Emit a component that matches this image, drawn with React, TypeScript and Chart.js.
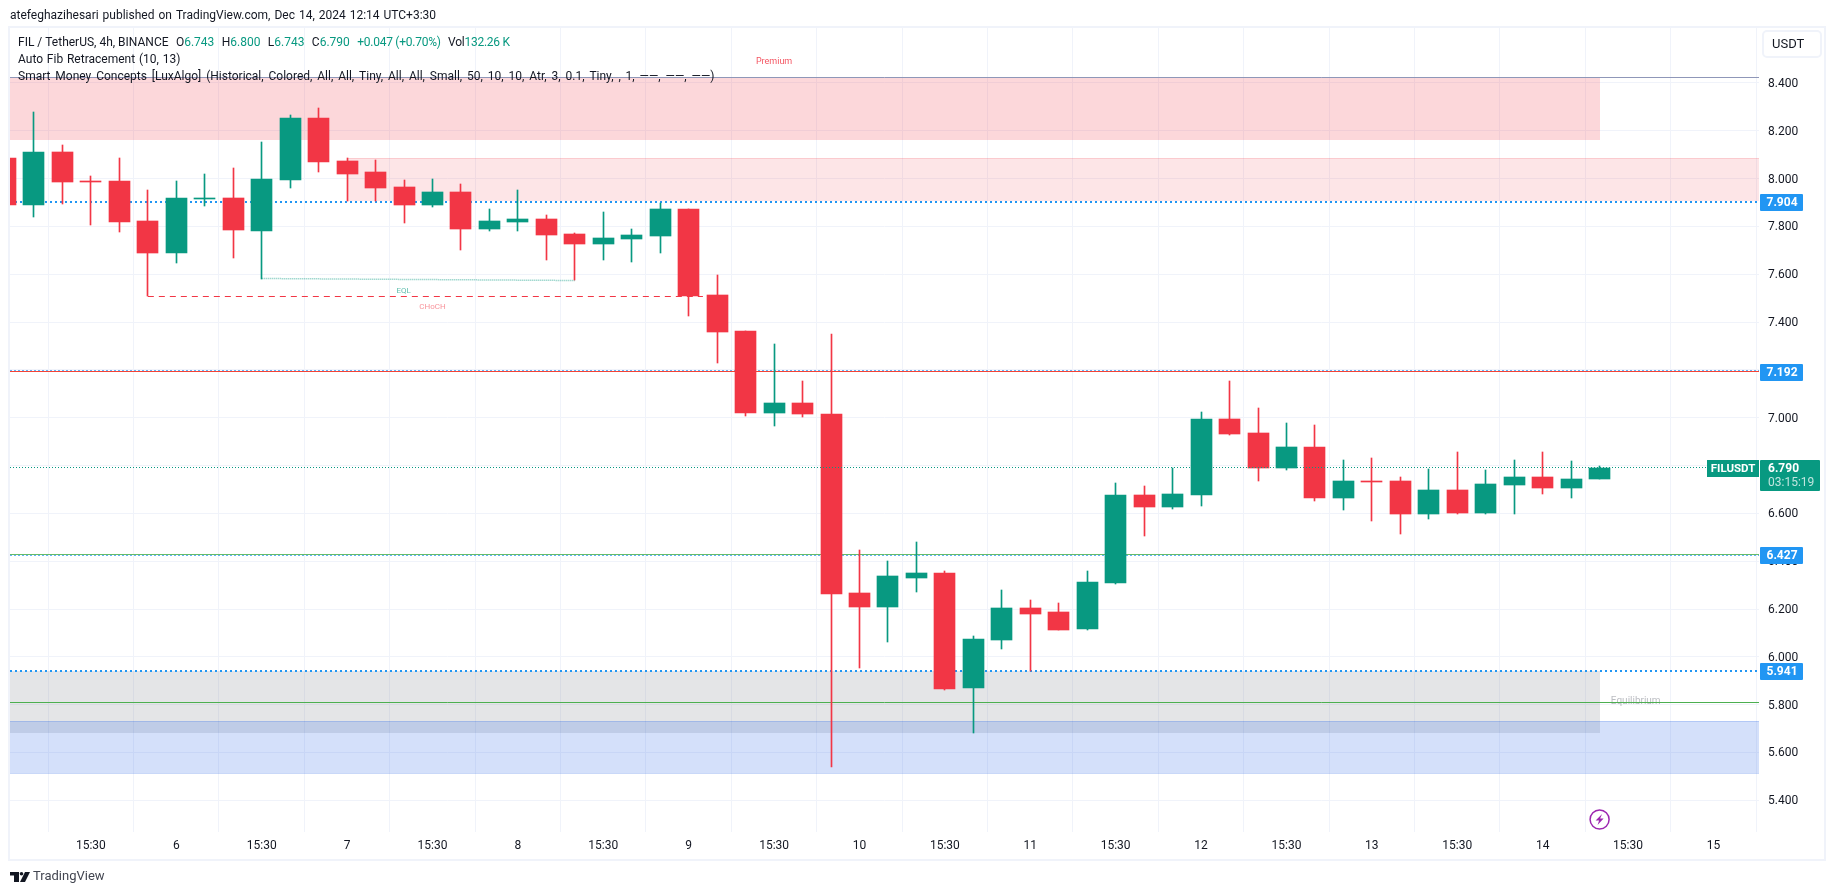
import React, { useEffect, useRef } from "react";
import { Chart, registerables } from "chart.js";

Chart.register(...registerables);

const FONT = "Roboto, 'Liberation Sans', sans-serif";
const UP = "#089981";
const DOWN = "#f23645";

// One row per 4h bar, the first bar being the one clipped at the left edge.
const opens = [8.086, 7.89, 8.111, 7.989, 7.99, 7.823, 7.689, 7.915, 7.919, 7.781, 7.994, 8.254, 8.074, 8.028, 7.965, 7.89, 7.944, 7.789, 7.819, 7.831, 7.768, 7.727, 7.748, 7.76, 7.873, 7.513, 7.363, 7.02, 7.062, 7.016, 6.267, 6.208, 6.33, 6.351, 5.87, 6.07, 6.204, 6.188, 6.116, 6.309, 6.677, 6.627, 6.677, 6.995, 6.936, 6.79, 6.878, 6.664, 6.735, 6.735, 6.597, 6.698, 6.602, 6.719, 6.752, 6.706, 6.743];
const highs = [8.086, 8.279, 8.141, 8.011, 8.086, 7.952, 7.99, 8.019, 8.044, 8.153, 8.266, 8.295, 8.086, 8.078, 7.994, 7.998, 7.978, 7.873, 7.952, 7.848, 7.773, 7.86, 7.789, 7.898, 7.873, 7.597, 7.363, 7.308, 7.154, 7.35, 6.447, 6.401, 6.48, 6.359, 6.087, 6.28, 6.238, 6.225, 6.359, 6.727, 6.715, 6.788, 7.024, 7.154, 7.041, 6.978, 6.97, 6.823, 6.832, 6.752, 6.786, 6.857, 6.781, 6.823, 6.857, 6.819, 6.8];
const lows = [7.89, 7.84, 7.894, 7.806, 7.777, 7.508, 7.647, 7.886, 7.668, 7.582, 7.961, 8.028, 7.906, 7.906, 7.814, 7.881, 7.702, 7.781, 7.781, 7.66, 7.575, 7.66, 7.651, 7.689, 7.426, 7.229, 7.007, 6.965, 7.003, 5.539, 5.953, 6.062, 6.271, 5.861, 5.682, 6.033, 5.941, 6.112, 6.112, 6.305, 6.505, 6.618, 6.631, 6.928, 6.735, 6.781, 6.652, 6.614, 6.568, 6.514, 6.576, 6.597, 6.597, 6.597, 6.681, 6.664, 6.743];
const closes = [7.89, 8.111, 7.986, 7.986, 7.819, 7.689, 7.919, 7.919, 7.785, 7.998, 8.254, 8.07, 8.019, 7.961, 7.89, 7.944, 7.789, 7.823, 7.831, 7.764, 7.727, 7.752, 7.764, 7.873, 7.509, 7.359, 7.02, 7.062, 7.016, 6.263, 6.208, 6.338, 6.351, 5.866, 6.075, 6.204, 6.179, 6.112, 6.313, 6.677, 6.627, 6.681, 6.995, 6.932, 6.79, 6.878, 6.664, 6.735, 6.731, 6.597, 6.698, 6.602, 6.723, 6.752, 6.706, 6.744, 6.79];

const priceTicks = [5.4, 5.6, 5.8, 6.0, 6.2, 6.4, 6.6, 6.8, 7.0, 7.2, 7.4, 7.6, 7.8, 8.0, 8.2, 8.4];
const timeTickBars = [3, 6, 9, 12, 15, 18, 21, 24, 27, 30, 33, 36, 39, 42, 45, 48, 51, 54, 57, 60];
const timeTickLabels = ["15:30", "6", "15:30", "7", "15:30", "8", "15:30", "9", "15:30", "10", "15:30", "11", "15:30", "12", "15:30", "13", "15:30", "14", "15:30", "15"];

const X_MIN = 0.158;
const X_MAX = 61.6;
const Y_MIN = 5.2674;
const Y_MAX = 8.63;

// [first bar, last bar, top price, bottom price]
const premiumZone = [X_MIN, 56, 8.425, 8.162];
const supplyZone = [12, X_MAX, 8.086, 7.908];
const equilibriumZone = [X_MIN, 56, 5.942, 5.683];
const demandZone = [X_MIN, X_MAX, 5.731, 5.513];

const topLevel = 8.425;
const fibHigh = 7.904;
const fibA = 7.192;
const lastClose = 6.79;
const fibB = 6.427;
const fibLow = 5.941;
const equilibrium = 5.81;
const eqlLine = [[9, 7.583], [20, 7.575]];
const chochLine = [[5, 7.508], [24.5, 7.508]];

const legendQuote = [
  ["O", "6.743"], ["H", "6.800"], ["L", "6.743"], ["C", "6.790"],
];

const hline = (y: number) => [{ x: X_MIN, y }, { x: X_MAX, y }];
const seg = (s: number[][]) => s.map(([x, y]) => ({ x, y }));

function lineDs(data: any[], color: string, width: number, dash: number[], order: number) {
  return {
    type: "line" as const,
    data,
    borderColor: color,
    borderWidth: width,
    borderDash: dash,
    pointRadius: 0,
    order,
    parsing: { xAxisKey: "x", yAxisKey: "y" },
  };
}

const snapMarks = {
  id: "snapMarks",
  afterDatasetsUpdate(chart: any) {
    chart.data.datasets.forEach((ds: any, i: number) => {
      const els = chart.getDatasetMeta(i).data;
      if (ds.type === "line") {
        els.forEach((el: any) => {
          el.y = ds.borderWidth % 2 === 0 ? Math.round(el.y) : Math.round(el.y - 0.5) + 0.5;
        });
        return;
      }
      els.forEach((el: any) => {
        el.x = Math.round(el.x - 0.5) + 0.5;
        el.y = Math.round(el.y);
        el.base = Math.round(el.base);
      });
    });
  },
  beforeDraw(chart: any) {
    const s = chart.scales.y;
    if (s.$shifted) return;
    s.$shifted = true;
    s.getLabelItems(chart.chartArea).forEach((it: any) => {
      it.options.translation[1] += 1;
    });
  },
};

const zones = {
  id: "zones",
  beforeDatasetsDraw(chart: any) {
    const { ctx, scales: { x, y } } = chart;
    const box = (z: number[], fill: string, edgeTop?: string, edgeBottom?: string) => {
      const x0 = Math.round(x.getPixelForValue(z[0]));
      const x1 = Math.round(x.getPixelForValue(z[1]));
      const y0 = Math.round(y.getPixelForValue(z[2]));
      const y1 = Math.round(y.getPixelForValue(z[3]));
      ctx.fillStyle = fill;
      ctx.fillRect(x0, y0, x1 - x0, y1 - y0);
      if (edgeTop) { ctx.fillStyle = edgeTop; ctx.fillRect(x0, y0, x1 - x0, 1); }
      if (edgeBottom) { ctx.fillStyle = edgeBottom; ctx.fillRect(x0, y1, x1 - x0, 1); }
    };
    ctx.save();
    box(premiumZone, "rgba(242,54,69,0.2)");
    box(supplyZone, "rgba(242,54,69,0.13)", "rgba(242,54,69,0.15)");
    box(equilibriumZone, "rgba(120,123,134,0.2)");
    box(demandZone, "rgba(41,98,228,0.2)", "rgba(41,98,228,0.2)", "rgba(41,98,228,0.25)");
    ctx.textAlign = "center";
    ctx.textBaseline = "middle";
    ctx.font = `10px ${FONT}`;
    ctx.fillStyle = "rgba(120,123,134,0.5)";
    ctx.fillText("Equilibrium", x.getPixelForValue(57.27), y.getPixelForValue(5.813));
    ctx.restore();
  },
};

const overlay = {
  id: "overlay",
  afterDraw(chart: any) {
    const { ctx, scales: { x, y } } = chart;
    ctx.save();
    ctx.textBaseline = "middle";

    // frame
    ctx.strokeStyle = "#f0f3fa";
    ctx.lineWidth = 2;
    ctx.strokeRect(9, 27, 1816, 833);

    // header
    ctx.textAlign = "left";
    ctx.font = `12px ${FONT}`;
    ctx.fillStyle = "#131722";
    ctx.wordSpacing = "1px";
    ctx.fillText("atefeghazihesari published on TradingView.com, Dec 14, 2024 12:14 UTC+3:30", 10, 16);
    ctx.wordSpacing = "0px";

    // legend
    let cx = 18;
    const put = (t: string, color: string, yy = 43) => {
      ctx.fillStyle = color;
      ctx.fillText(t, cx, yy);
      cx += ctx.measureText(t).width;
    };
    put("FIL / TetherUS, 4h, BINANCE", "#131722");
    cx += 7.4;
    legendQuote.forEach(([k, v]) => {
      put(k, "#131722");
      put(v, UP);
      cx += 7.4;
    });
    ctx.letterSpacing = "-0.25px";
    put("+0.047 (+0.70%)", UP);
    cx += 7.4;
    put("Vol", "#131722");
    put("132.26 K", UP);
    ctx.letterSpacing = "0px";
    ctx.fillStyle = "#131722";
    ctx.wordSpacing = "0.85px";
    ctx.fillText("Auto Fib Retracement (10, 13)", 18, 60);
    ctx.wordSpacing = "1.9px";
    ctx.fillText("Smart Money Concepts [LuxAlgo] (Historical, Colored, All, All, Tiny, All, All, Small, 50, 10, 10, Atr, 3, 0.1, Tiny, , 1, \u2014\u2014, \u2014\u2014, \u2014\u2014)", 18, 77);
    ctx.wordSpacing = "0px";

    // small chart labels
    ctx.textAlign = "center";
    ctx.font = `9px ${FONT}`;
    ctx.fillStyle = "rgba(242,54,69,0.85)";
    ctx.fillText("Premium", x.getPixelForValue(27), y.getPixelForValue(8.489));
    ctx.font = `8px ${FONT}`;
    ctx.fillStyle = "rgba(8,153,129,0.65)";
    ctx.fillText("EQL", x.getPixelForValue(13.99), y.getPixelForValue(7.528));
    ctx.fillStyle = "rgba(242,54,69,0.55)";
    ctx.fillText("CHoCH", x.getPixelForValue(15), y.getPixelForValue(7.465));

    // USDT button
    ctx.fillStyle = "#fff";
    ctx.strokeStyle = "#f0f3fa";
    ctx.lineWidth = 2;
    ctx.beginPath();
    ctx.roundRect(1763, 31, 58, 26, 4);
    ctx.fill();
    ctx.stroke();
    ctx.fillStyle = "#131722";
    ctx.font = `13px ${FONT}`;
    ctx.textAlign = "left";
    ctx.fillText("USDT", 1772, 44.5);

    // price tags
    ctx.textAlign = "center";
    const tag = (v: number) => {
      const py = Math.round(y.getPixelForValue(v));
      ctx.fillStyle = "#2196f3";
      ctx.beginPath();
      ctx.roundRect(1760, py - 8, 43, 17, 1);
      ctx.fill();
      ctx.fillStyle = "#fff";
      ctx.font = `bold 12px ${FONT}`;
      ctx.fillText(v.toFixed(3), 1782, py + 1);
    };
    [fibHigh, fibA, fibB, fibLow].forEach(tag);

    const py = Math.round(y.getPixelForValue(lastClose));
    ctx.fillStyle = UP;
    ctx.beginPath();
    ctx.roundRect(1760, py - 8, 60, 31, 1);
    ctx.fill();
    ctx.fillRect(1707, py - 8, 52, 17);
    ctx.fillStyle = "#fff";
    ctx.font = `bold 11.5px ${FONT}`;
    ctx.fillText("FILUSDT", 1733, py + 1);
    ctx.textAlign = "left";
    ctx.font = `bold 12px ${FONT}`;
    ctx.fillText(lastClose.toFixed(3), 1768, py + 1);
    ctx.font = `12px ${FONT}`;
    ctx.fillStyle = "rgba(255,255,255,0.75)";
    ctx.fillText("03:15:19", 1768, py + 15);

    // bolt badge
    const bx = x.getPixelForValue(56);
    const by = 819.5;
    ctx.strokeStyle = "#9c27b0";
    ctx.lineWidth = 1.5;
    ctx.beginPath();
    ctx.arc(bx, by, 9.5, 0, Math.PI * 2);
    ctx.stroke();
    ctx.fillStyle = "#9c27b0";
    ctx.beginPath();
    ctx.moveTo(bx + 2.5, by - 5.5);
    ctx.lineTo(bx - 4, by + 1);
    ctx.lineTo(bx - 0.5, by + 1);
    ctx.lineTo(bx - 2, by + 5.5);
    ctx.lineTo(bx + 4, by - 1);
    ctx.lineTo(bx + 0.5, by - 1);
    ctx.closePath();
    ctx.fill();

    // TradingView mark
    ctx.fillStyle = "#131722";
    ctx.fillRect(10, 872, 9, 3.5);
    ctx.fillRect(14, 872, 5, 10);
    ctx.beginPath();
    ctx.arc(21.5, 873.8, 1.8, 0, Math.PI * 2);
    ctx.fill();
    ctx.beginPath();
    ctx.moveTo(25, 872);
    ctx.lineTo(30, 872);
    ctx.lineTo(25, 882);
    ctx.lineTo(20, 882);
    ctx.closePath();
    ctx.fill();
    ctx.textAlign = "left";
    ctx.font = `13px ${FONT}`;
    ctx.fillStyle = "#434651";
    ctx.fillText("TradingView", 33, 877);
    ctx.restore();
  },
};

export default function App() {
  const ref = useRef<HTMLCanvasElement>(null);
  useEffect(() => {
    const rows = opens.map((o, i) => ({ i, o, h: highs[i], l: lows[i], c: closes[i] }));
    const colorOf = (r: any) => (r.c >= r.o ? UP : DOWN);
    const chart = new Chart(ref.current!, {
      type: "bar",
      data: {
        datasets: [
          {
            data: rows.map((r) => ({ x: r.i, y: [r.o, r.c] })),
            backgroundColor: rows.map(colorOf),
            barThickness: 21,
            grouped: false,
            order: 3,
          },
          {
            data: rows.map((r) => ({ x: r.i, y: [r.l, r.h] })),
            backgroundColor: rows.map(colorOf),
            barThickness: 1,
            grouped: false,
            order: 4,
          },
          lineDs(hline(topLevel), "#8f97b8", 1, [], 6),
          lineDs(hline(fibHigh), "#2196f3", 2, [2, 3], 6),
          lineDs(hline(fibA + 0.0042), "rgba(33,150,243,0.7)", 1, [2, 2], 6),
          lineDs(hline(fibA), "#f44336", 1, [], 5),
          lineDs(hline(fibB - 0.0042), "rgba(33,150,243,0.7)", 1, [2, 2], 6),
          lineDs(hline(fibB), "#66bb6a", 1, [], 5),
          lineDs(hline(fibLow), "#2196f3", 2, [2, 3], 6),
          lineDs(hline(equilibrium), "#4caf50", 1, [], 6),
          lineDs(seg(eqlLine), "rgba(8,153,129,0.55)", 1.5, [1, 1], 6),
          lineDs(seg(chochLine), "#f23645", 1, [6, 5], 6),
          lineDs(hline(lastClose), UP, 1, [1, 2], 1),
        ] as any,
      },
      options: {
        animation: false,
        responsive: false,
        layout: { padding: { left: 10, top: 28, right: 10, bottom: 35 } },
        plugins: { legend: { display: false }, tooltip: { enabled: false } },
        scales: {
          x: {
            type: "linear",
            offset: false,
            min: X_MIN,
            max: X_MAX,
            grid: { color: "#f0f3fa", drawTicks: false },
            border: { display: false },
            afterBuildTicks: (s: any) => {
              s.ticks = timeTickBars.map((value) => ({ value }));
            },
            afterFit: (s: any) => {
              s.height = 28;
            },
            ticks: {
              autoSkip: false,
              maxRotation: 0,
              padding: 7,
              color: "#131722",
              font: { family: FONT, size: 12 },
              callback: (v: any) => timeTickLabels[timeTickBars.indexOf(v)] ?? "",
            },
          },
          y: {
            type: "linear",
            position: "right",
            min: Y_MIN,
            max: Y_MAX,
            grid: { color: "#f0f3fa", drawTicks: false },
            border: { display: false },
            afterBuildTicks: (s: any) => {
              s.ticks = priceTicks.map((value) => ({ value }));
            },
            afterFit: (s: any) => {
              s.width = 66;
            },
            ticks: {
              autoSkip: false,
              padding: 9,
              color: "#131722",
              font: { family: FONT, size: 12 },
              callback: (v: any) => Number(v).toFixed(3),
            },
          },
        },
      } as any,
      plugins: [snapMarks, zones, overlay],
    });
    return () => chart.destroy();
  }, []);
  return (
    <canvas
      ref={ref}
      width={1835}
      height={895}
      style={{ position: "absolute", left: 0, top: 0, display: "block", background: "#fff" }}
    />
  );
}
